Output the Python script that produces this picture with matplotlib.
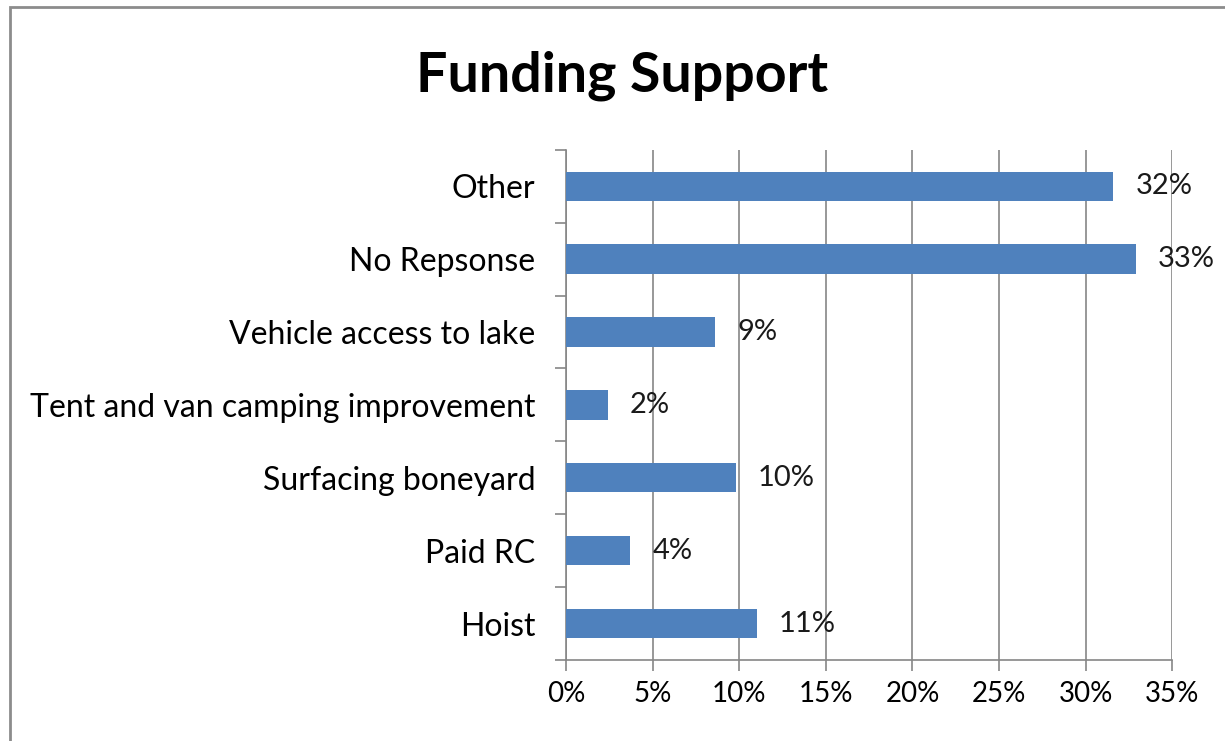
import numpy as np
import matplotlib.pyplot as plt
from matplotlib.patches import Rectangle
from matplotlib.ticker import FuncFormatter

plt.rcParams['font.family'] = ['Lato', 'DejaVu Sans']

# Data (bottom to top as drawn)
categories = ['Hoist', 'Paid RC', 'Surfacing boneyard', 'Tent and van camping improvement',
              'Vehicle access to lake', 'No Repsonse', 'Other']
values = [0.110, 0.037, 0.098, 0.024, 0.086, 0.329, 0.316]
value_labels = ['11%', '4%', '10%', '2%', '9%', '33%', '32%']

fig = plt.figure(figsize=(12.25, 7.41), dpi=100)
ax = fig.add_axes([0.462, 0.109, 0.495, 0.689])

y = np.arange(len(categories))
ax.barh(y, values, height=0.4, color='#4F81BD', zorder=3)

for yi, v, lab in zip(y, values, value_labels):
    ax.annotate(lab, (v, yi), xytext=(16, 0), textcoords='offset points',
                va='center', ha='left', fontsize=21, color='#1a1a1a', zorder=4)

ax.set_xlim(0, 0.35)
ax.set_ylim(-0.5, len(categories) - 0.5)
ax.set_xticks(np.arange(0, 0.351, 0.05))
ax.xaxis.set_major_formatter(FuncFormatter(lambda x, pos: f'{x*100:.0f}%'))
ax.grid(axis='x', color='#868686', linewidth=1.2, zorder=0)

ax.set_yticks(y)
ax.set_yticklabels(categories)
ax.set_yticks(np.arange(-0.5, len(categories), 1), minor=True)
ax.tick_params(axis='y', which='major', length=0, pad=22, labelsize=23)
ax.tick_params(axis='y', which='minor', length=8, width=1.2, color='#868686', direction='out')
ax.tick_params(axis='x', length=8, width=1.2, color='#868686', direction='out', pad=7, labelsize=20)

for s in ['top', 'right']:
    ax.spines[s].set_visible(False)
for s in ['left', 'bottom']:
    ax.spines[s].set_color('#868686')
    ax.spines[s].set_linewidth(1.2)

fig.text(0.508, 0.898, 'Funding Support', ha='center', va='center',
         fontsize=40, fontweight='bold', color='black')

# chart border
fig.patches.append(Rectangle((10 / 1225, -0.1), 1.2, 1.1 - 7 / 741, transform=fig.transFigure,
                             fill=False, edgecolor='#8c8c8c', linewidth=2))

fig.savefig('out.png', dpi=100)
